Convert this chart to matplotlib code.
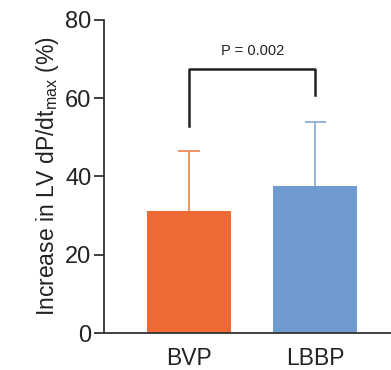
import matplotlib
matplotlib.use("Agg")
import matplotlib.pyplot as plt

categories = ["BVP", "LBBP"]
means = [31.3, 37.5]
upper_err = [15.1, 16.3]
bar_colors = ["#EE6A35", "#6F9BD1"]
err_colors = ["#E98A60", "#8FAEDB"]
p_text = "P = 0.002"

plt.rcParams['font.family'] = ['Liberation Sans', 'DejaVu Sans']

fig = plt.figure(figsize=(3.91, 3.70), dpi=100)
ax = fig.add_axes([0.266, 0.1, 0.734, 0.846])

x = list(range(len(categories)))
for i in x:
    ax.bar(i, means[i], width=0.667, color=bar_colors[i], zorder=2)
    top = means[i] + upper_err[i]
    ax.vlines(i, means[i], top, color=err_colors[i], lw=1.3, zorder=1)
    ax.hlines(top, i - 0.085, i + 0.085, color=err_colors[i], lw=1.3, zorder=1)

# significance bracket
yb = 67.4
ax.plot([0, 0, 1, 1], [52.9, yb, yb, 60.9], color="#222222", lw=1.8, clip_on=False)
ax.text(0.5, yb + 3.0, p_text, ha='center', va='bottom', fontsize=10.5, color="#222222")

ax.set_xlim(-0.675, 1.6)
ax.set_ylim(0, 80)
ax.set_yticks([0, 20, 40, 60, 80])
ax.set_xticks(x)
ax.set_xticklabels(categories, fontsize=16.5, color="#222222")
ax.tick_params(axis='y', labelsize=17, length=7, width=1.3, colors="#333333", labelcolor="#222222", pad=2)
ax.tick_params(axis='x', length=0, pad=10)
ax.set_ylabel("Increase in LV dP/dt$_{\\mathregular{max}}$ (%)", fontsize=16.5, color="#222222", labelpad=3)

for s in ['top', 'right']:
    ax.spines[s].set_visible(False)
for s in ['left', 'bottom']:
    ax.spines[s].set_linewidth(1.3)
    ax.spines[s].set_color("#333333")

fig.savefig("out.png", dpi=100)
